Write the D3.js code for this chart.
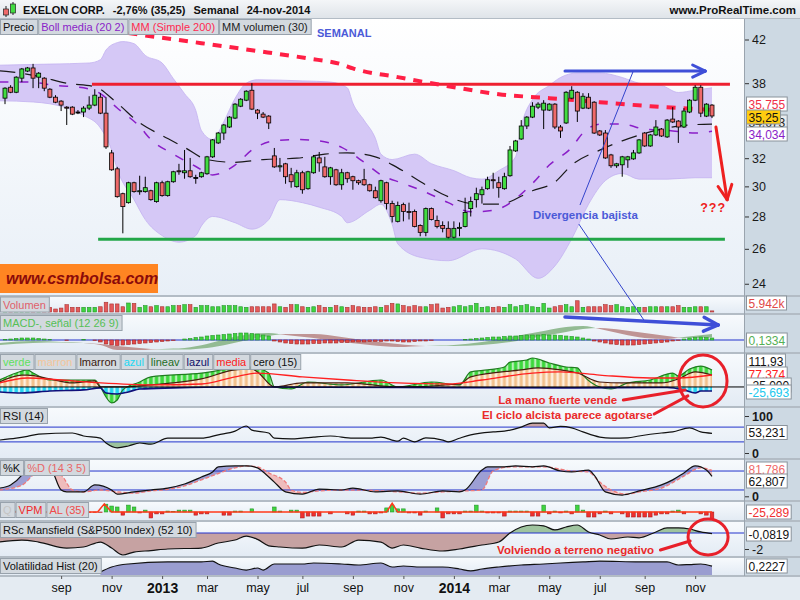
<!DOCTYPE html>
<html>
<head>
<meta charset="utf-8">
<script src="https://cdn.jsdelivr.net/npm/d3@7"></script>
<style>
  body { margin: 0; background: #fff; }
  svg text { font-family: "Liberation Sans", Arial, sans-serif; }
</style>
</head>
<body>
<svg id="chart" width="800" height="600"></svg>
<script>
// ---------------- data (weekly bars, EXELON CORP.) ----------------
var weeks = d3.timeMonday.range(new Date(2012, 5, 25), new Date(2014, 10, 25));
var monthNames = ["ene","feb","mar","abr","may","jun","jul","ago","sep","oct","nov","dic"];

var opens = [36.72,37.65,37.22,38.44,39.07,39.35,38.53,38.44,37.48,36.80,36.47,35.97,35.97,35.57,35.57,35.89,36.14,36.80,35.48,32.39,
  31.23,29.50,28.90,30.25,29.64,29.64,29.70,28.97,30.25,29.37,30.32,31.09,30.95,31.09,30.60,30.67,30.88,32.10,33.14,33.90,
  34.37,35.08,36.05,36.55,37.39,35.73,35.40,35.24,32.17,31.37,31.59,30.81,29.98,30.95,29.84,30.95,32.02,31.37,30.67,31.16,
  30.11,30.95,30.67,30.39,30.46,30.11,29.70,29.03,30.25,28.84,27.69,28.77,28.32,28.32,27.43,27.00,28.51,27.75,27.43,27.25,
  26.70,27.25,27.37,28.51,29.10,29.43,29.84,30.46,30.25,29.84,30.74,32.54,33.44,34.45,35.16,35.97,35.73,35.73,36.22,34.37,
  34.69,36.72,37.22,35.89,36.80,36.38,34.06,33.90,32.24,31.45,31.52,31.88,31.95,32.39,33.90,32.91,33.75,34.21,33.60,35.00,
  34.84,34.37,35.57,36.55,37.65,35.24,36.14];
var highs = [37.65,37.83,38.61,39.35,39.44,39.72,38.98,38.53,37.57,36.97,36.55,36.05,36.05,35.73,36.05,36.88,37.48,37.14,36.80,32.61,
  31.37,29.57,30.32,30.32,30.74,30.67,29.77,30.32,30.39,30.39,31.09,31.59,32.61,32.02,30.81,31.02,32.17,33.44,33.98,34.61,
  35.24,36.30,36.72,37.39,38.00,35.81,35.57,35.32,32.76,32.02,31.66,31.30,31.16,31.09,31.09,32.24,32.46,32.10,31.37,31.23,
  31.23,31.02,30.74,30.46,31.23,30.18,29.98,30.46,30.32,29.03,28.97,28.90,28.90,28.45,27.50,28.58,28.58,28.06,27.69,27.69,
  27.69,27.62,29.23,29.30,29.91,29.98,30.67,30.95,30.67,30.95,32.91,33.37,34.92,35.24,36.38,36.38,36.55,36.30,36.30,34.53,
  37.31,37.74,37.31,37.14,37.14,36.47,34.13,34.13,32.32,31.66,32.17,32.17,32.61,33.44,33.98,33.83,34.92,34.29,35.00,35.97,
  34.92,35.89,36.63,37.83,37.83,36.30,36.22];
var lows = [36.22,37.14,37.14,38.09,38.98,37.57,37.57,37.31,36.72,36.30,35.65,34.53,35.32,35.40,35.16,35.73,36.05,35.40,32.69,31.09,
  29.23,26.94,28.84,29.57,29.43,29.57,29.03,28.90,29.30,29.30,30.25,30.81,30.53,30.60,30.18,30.60,30.81,32.02,33.06,33.37,
  34.29,35.00,35.97,36.47,35.73,35.00,35.08,34.21,31.30,31.02,30.18,29.91,29.91,29.50,29.77,30.88,31.02,30.60,30.11,30.04,
  29.77,30.25,29.77,30.11,30.04,29.64,29.17,28.90,28.45,27.62,27.62,27.69,27.81,27.31,26.76,26.76,27.75,27.25,27.00,26.63,
  26.63,26.76,27.31,28.00,28.58,28.84,29.77,29.84,29.23,29.77,30.67,32.46,33.37,34.21,35.08,35.81,34.21,35.65,34.21,33.52,
  34.61,36.63,34.77,35.81,35.81,33.83,33.67,31.95,31.30,31.30,30.67,31.30,31.88,32.32,32.84,32.84,33.67,33.60,33.52,34.69,
  33.14,34.29,35.48,36.47,35.16,35.16,35.08];
var closes = [37.57,37.22,38.53,39.26,39.35,38.44,38.88,37.57,36.80,36.38,36.14,35.89,35.40,35.55,35.89,36.14,36.97,35.48,32.84,31.16,
  29.30,28.64,30.25,29.64,29.70,29.91,29.10,30.25,29.37,30.32,31.02,31.02,31.09,30.67,30.62,30.95,32.10,33.37,33.90,34.53,
  35.16,36.22,36.63,37.31,35.81,35.48,35.16,34.69,31.37,31.45,30.67,30.32,30.95,29.77,31.02,32.10,31.66,30.67,31.30,30.11,
  30.95,30.53,30.39,30.25,30.11,29.70,29.23,30.39,28.84,28.00,28.71,28.32,28.26,27.37,27.00,28.51,27.81,27.37,27.25,26.70,
  27.25,27.31,28.26,28.97,29.50,29.77,30.46,30.39,29.91,30.67,32.61,33.29,34.45,35.16,36.05,36.22,36.30,36.22,34.37,34.06,
  37.22,37.39,35.65,36.88,35.89,33.90,33.75,32.02,31.45,31.59,32.10,32.10,32.39,33.37,32.91,33.75,34.37,33.67,34.92,34.77,
  34.37,35.65,36.55,37.65,35.48,36.22,35.25];

// volume, millions of shares
var volumes = [28,25,30,28,22,30,25,28,25,16,21,39,25,25,25,25,25,28,52,43,43,28,48,46,25,34,28,34,28,28,34,34,39,39,25,34,34,28,28,34,
  34,34,28,25,28,28,28,28,43,28,25,39,39,28,25,28,34,25,25,34,28,25,34,28,25,25,28,25,34,46,43,
  34,28,34,28,28,39,43,21,25,28,34,28,34,46,25,28,25,28,25,39,28,34,39,28,25,46,21,28,34,39,28,60,25,28,28,28,39,34,39,28,25,28,
  25,25,28,28,28,28,28,34,25,25,28,28,28,5.942];

// price overlays: [week index, value]
var bollUpper = [[-1,39.6],[8,39.7],[15,39.8],[17,40.1],[18,41.0],[20,41.7],[21,41.8],[23,41.6],[25,40.5],[28,39.8],[30,38.4],[32,37.1],
  [34,35.7],[35,34.1],[37,33.4],[39,34.8],[41,36.7],[43,38.0],[45,38.3],[53,38.2],[58,38.1],[61,37.6],[62,36.3],[64,34.9],[66,33.5],
  [67,32.3],[69,31.9],[73,32.3],[76,31.6],[80,31.1],[83,30.6],[85,30.5],[88,31.1],[91,32.1],[92,34.4],[94,36.6],[97,37.8],[99,38.5],
  [102,38.9],[106,38.9],[110,38.5],[113,38.0],[117,37.8],[120,37.2],[123,37.4],[126,37.6]];
var bollLower = [[-1,36.5],[5,36.4],[11,35.9],[14,35.3],[17,34.3],[19,32.6],[20,31.2],[23,29.1],[25,27.8],[28,26.8],[31,26.4],[34,26.8],
  [35,27.4],[37,28.0],[41,27.6],[44,27.2],[47,27.8],[49,29.1],[53,28.9],[56,28.6],[60,28.0],[61,27.6],[65,28.4],[67,28.8],[69,27.5],
  [70,26.3],[74,25.5],[79,25.3],[85,26.0],[91,25.4],[95,24.3],[98,25.0],[101,26.6],[104,28.8],[107,30.4],[110,30.9],[113,30.5],
  [118,30.5],[123,30.6],[126,30.6]];
var bollMid = [[-1,38.1],[4,38.1],[9,37.8],[14,37.6],[17,37.1],[20,35.9],[24,34.4],[26,33.4],[30,32.3],[34,31.4],[37,30.8],[41,31.5],
  [44,32.6],[48,33.3],[52,33.4],[56,33.3],[60,32.8],[64,31.7],[67,30.8],[71,30.2],[75,29.6],[79,28.9],[83,28.3],[87,28.4],[94,30.2],
  [97,31.5],[101,32.8],[103,33.9],[106,34.6],[110,34.6],[114,34.2],[118,34.1],[123,33.9],[126,34.034]];
var maBlack = [[-1,39.1],[1,39.0],[6,38.6],[11,38.0],[16,37.7],[20,36.3],[24,34.7],[28,33.7],[32,32.8],[36,31.9],[41,31.7],[46,31.9],
  [52,32.0],[57,32.3],[61,32.4],[66,32.1],[70,31.3],[75,30.1],[79,29.3],[84,28.8],[88,28.8],[94,29.7],[98,30.3],[101,31.5],[106,32.6],
  [110,33.3],[116,34.1],[121,34.5],[126,34.6]];
var ma200 = [[22,42.62],[35,41.65],[44,40.98],[54,40.22],[60,39.67],[62,39.31],[70,38.53],[79,37.74],[88,37.05],[97,36.72],[106,36.38],
  [115,36.05],[126,35.755]];

// MACD panel
var macdLine = [[-1,-3],[5,-1],[10,-2],[14,-3],[17,-5],[20,-10],[24,-10],[28,-9],[32,-8],[36,-4],[40,2],[44,6],[47,7],[50,5],[55,2],
  [60,-2],[65,-5],[70,-7],[75,-6],[80,-5],[85,-2],[90,3],[95,8],[100,13],[103,14],[106,11],[110,6],[114,2],[118,1],[121,3],[126,6]];
var signalLine = [[-1,-5],[5,-3],[10,-2.5],[14,-3],[17,-4],[20,-6],[24,-8],[28,-9.5],[32,-9.5],[36,-8],[40,-4],[44,1],[47,4],[50,6],
  [55,6],[60,3],[65,-1],[70,-4],[75,-6],[80,-6],[85,-5],[90,-2],[95,3],[100,8],[103,11],[106,12],[110,10],[114,7],[118,4],[121,2],[126,2.5]];
var macdHist = [0.5,1,1.5,2,2,2,1.5,1,0.5, 0,0,-0.5,0,0,0.5,0,-0.5,
  -2,-4,-5,-5.5,-5,-4.5,-4,-3.5,-3,-2.5,-2,-1.5, -1,-0.5,0,
  1,1.5,2.5,3,4,4.5,5,5.5,6,6.5,7,7,6.5,6,5,4,
  -1,-2,-3,-3.5,-4,-4,-4,-3.5,-3.5,-3,-3,-3,-2.5,-2.5,-2,-2,-2,-1.5,-1.5,-1.5,-1,-1,-1.5,
  -2,-2,-1.5,-1,-1,-0.5,0,0,0,0,0,
  0.5,1,1.5,2,2.5,3,3,3.5,4,4,4.5,5,5,5,5.5,5,5,4.5,4,3.5,3,2,1,
  -1,-2,-3,-4,-4.5,-5,-5,-5,-4.5,-4,-3.5,-3,-2.5,-2,-1,-0.5,
  1,2,2.5,3,2.5,2];

// "mano fuerte" panel
var verde = [[-1,45],[2,90],[4,110],[5,90],[8,45],[16,45],[17,0],[18,-65],[19,-103],[20,-84],[21,-19],[24,32],[26,65],[35,90],[40,116],
  [44,129],[47,90],[48,0],[51,-13],[54,32],[60,13],[67,45],[70,0],[76,32],[81,13],[83,97],[86,110],[89,129],[90,161],[93,174],[94,187],
  [97,155],[100,129],[102,123],[103,77],[106,0],[108,-13],[111,26],[115,45],[119,90],[120,71],[122,116],[124,135],[126,110]];
var marron = [[-1,32],[3,77],[4,77],[8,52],[12,26],[16,39],[17,0],[21,0],[26,13],[30,26],[35,52],[41,110],[44,116],[45,97],[48,0],[53,26],
  [61,26],[70,0],[81,19],[83,65],[92,110],[95,123],[99,110],[102,90],[106,32],[110,26],[117,26],[120,52],[123,97],[126,77]];
var azul = [[-1,-32],[3,-39],[8,-26],[14,-19],[17,-6],[18,-39],[20,-45],[22,-32],[24,-13],[30,-6],[40,0],[70,-3],[100,-6],[118,-3],
  [121,-19],[123,-39],[124,-26],[126,-25.693]];
var media = [[-1,26],[4,58],[10,45],[17,26],[26,13],[35,19],[41,65],[45,90],[53,65],[61,45],[70,26],[79,19],[85,45],[94,90],[99,97],
  [106,77],[115,58],[120,58],[126,77.374]];

// RSI (14)
var rsi = [[-1,35],[2,40],[4,45],[6,51],[12,54],[14,46],[17,40],[18,27],[20,14],[22,19],[24,27],[26,24],[29,40],[35,40],[38,49],[41,59],
  [43,73],[44,62],[47,54],[48,40],[51,38],[53,40],[55,43],[58,46],[62,40],[65,40],[67,43],[70,32],[71,40],[73,30],[75,41],[78,35],[79,30],
  [81,40],[83,49],[87,57],[89,59],[92,70],[94,81],[96,81],[97,68],[99,72],[101,68],[103,57],[106,43],[108,40],[111,41],[113,46],[117,54],
  [119,57],[122,68],[124,57],[126,53.231]];

// Stochastic %K %D (14 3 5)
var stochK = [[-1,26],[1,36],[3,67],[4,93],[6,93],[8,90],[10,20],[11,14],[14,14],[16,36],[19,20],[20,7],[23,14],[26,20],[29,26],[32,39],
  [35,61],[37,77],[38,93],[41,96],[43,96],[45,90],[46,77],[48,45],[50,14],[53,7],[56,23],[60,20],[62,26],[66,14],[70,17],[74,7],[78,17],
  [81,14],[82,20],[85,83],[86,93],[89,93],[91,96],[94,93],[96,96],[99,80],[101,77],[104,83],[105,67],[107,14],[110,4],[113,17],[117,36],
  [119,52],[121,74],[123,96],[125,83],[126,62.807]];
var stochD = [[-1,20],[3,35],[6,77],[8,77],[10,67],[12,20],[14,14],[17,20],[20,14],[23,10],[26,17],[29,22],[32,33],[35,52],[38,72],
  [41,90],[43,96],[45,93],[47,74],[50,45],[51,20],[53,12],[56,17],[60,20],[66,18],[70,14],[74,10],[78,14],[82,17],[85,20],[87,80],[90,93],
  [96,93],[101,80],[104,77],[106,45],[108,20],[111,7],[113,14],[117,26],[121,64],[124,90],[126,81.786]];

// VPM / AL (35)
var vpm = [2,-2,3,-3,4,2,-2,-3,3,2,-2,-4,2,-2, -1,-1,-1,-1,
  25,19,16,-10,22,16,-3,6,-19,-6,-6,3,2,6,6,6,-10,-6,-6,0,0,-10,-10,3,3,0,10,0,0,0,16,3,0,6,6,-19,-13,-13,-13,0,-6,0,0,-6,-10,3,3,-6,-6,-3,13,22,10,
  10,-3,-3,-10,3,0,13,-19,-6,-6,-6,3,3,22,3,-3,-3,-3,-13,3,3,3,3,-13,-13,22,-6,3,-3,3,-6,22,6,-16,-16,-6,3,-6,0,-6,
  -16,-16,-16,-16,-16,-10,-6,-6,3,6,-6,0,0,-6,-10,-25.289];
var alLine = [[-1,0],[16.5,0],[17.7,26],[19,0],[68,0],[69,28],[70,0],[126,0]];

// RSc Mansfield (S&P500 Index) (52 10)
var rsc = [[-1,-1.13],[3,-0.88],[6,-1.13],[11,-1.88],[14,-1.75],[17,-1.13],[19,-1.88],[21,-2.75],[23,-2.38],[26,-2.2],[29,-2.0],
  [35,-1.88],[38,-1.25],[41,-0.88],[43,-0.38],[45,-0.8],[47,-1.6],[49,-1.75],[53,-1.9],[56,-1.5],[60,-1.75],[63,-0.88],[67,-1.13],
  [69,-1.88],[71,-1.5],[74,-1.88],[78,-2.25],[81,-2.0],[85,-1.5],[88,-1.13],[90,0.0],[92,0.75],[94,1.0],[96,0.9],[98,0.38],[100,0.75],
  [102,1.0],[104,0.13],[106,-0.25],[108,-0.75],[111,-0.5],[113,-0.6],[116,0.13],[118,0.63],[120,0.63],[122,0.5],[124,0.13],[126,-0.0819]];

// Volatilidad Hist (20)
var volHist = [[17,0.142],[19,0.211],[22,0.253],[29,0.281],[35,0.281],[37,0.294],[38,0.253],[41,0.197],[43,0.169],[45,0.197],[46,0.169],
  [48,0.253],[53,0.253],[55,0.267],[60,0.253],[63,0.239],[67,0.267],[69,0.211],[71,0.225],[74,0.211],[78,0.211],[81,0.183],[83,0.156],
  [85,0.183],[88,0.211],[92,0.239],[96,0.253],[99,0.267],[103,0.281],[106,0.294],[113,0.281],[118,0.281],[120,0.239],[122,0.245],
  [124,0.253],[126,0.2227]];

// hand-drawn levels
var resistance = [[15.5,37.91],[129.2,37.91]];
var support = [[16.6,26.57],[128.3,26.57]];

// ---------------- layout ----------------
var W = 800, H = 600, PR = 744;
var P = {price:[19,295], volume:[297,313], macd:[315,352], mano:[354,406], rsi:[408,458],
         stoch:[460,500], vpm:[502,520], rsc:[522,556], vol:[558,575]};

var svg = d3.select("#chart");
var defs = svg.append("defs");

var xi = d3.scaleLinear().domain([0, weeks.length - 1]).range([5, 712]);
var step = xi(1) - xi(0);

var yPrice = d3.scaleLog().domain([23.39, 43.92]).range([295, 20]);
var yVolume = d3.scaleLinear().domain([0, 80]).range([312, 297]);
var yMacd = d3.scaleLinear().domain([-12, 22]).range([352, 318]);
var yMano = d3.scaleLinear().domain([-123, 213]).range([406, 354]);
var yRsi = d3.scaleLinear().domain([0, 100]).range([453, 416]);
var yStoch = d3.scaleLinear().domain([0, 100]).range([496.3, 464.7]);
var yVpm = d3.scaleLinear().domain([-28.8, 32]).range([521, 502]);
var yRsc = d3.scaleLinear().domain([-2.875, 1.375]).range([556, 522]);
var yVol = d3.scaleLinear().domain([0.1, 0.35]).range([575, 557]);

// gradients
function vGrad(id, c0, c1) {
  var g = defs.append("linearGradient").attr("id", id).attr("x1", 0).attr("y1", 0).attr("x2", 0).attr("y2", 1);
  g.append("stop").attr("offset", "0%").attr("stop-color", c0);
  g.append("stop").attr("offset", "100%").attr("stop-color", c1);
}
vGrad("bgPrice", "#ffffff", "#e8eff7");
vGrad("bgPanel", "#f7fafd", "#e3ebf4");
vGrad("bgHead", "#f4f6f8", "#dfe4e9");

// stripes for the "mano" histograms
function stripes(id, bg, fg, w) {
  var p = defs.append("pattern").attr("id", id).attr("patternUnits", "userSpaceOnUse")
    .attr("width", step).attr("height", 8)
    .attr("patternTransform", "translate(" + (xi(0) - step / 2) + ",0)");
  p.append("rect").attr("width", step).attr("height", 8).attr("fill", bg);
  p.append("rect").attr("x", (step - w) / 2).attr("width", w).attr("height", 8).attr("fill", fg);
}
stripes("pVerde", "#b9efb9", "#3cd83c", 3.4);
stripes("pMarron", "#fdeedd", "#f2c08c", 3.0);
stripes("pAzul", "#bff4fb", "#22d4f2", 3.4);

// background + separators
svg.append("rect").attr("width", W).attr("height", H).attr("fill", "#b3bcc5");
svg.append("rect").attr("width", W).attr("height", 18).attr("fill", "url(#bgHead)");

Object.keys(P).forEach(function(k) {
  var t = P[k][0], b = P[k][1];
  svg.append("rect").attr("x", 0).attr("y", t).attr("width", PR).attr("height", b - t)
    .attr("fill", k === "price" ? "url(#bgPrice)" : "url(#bgPanel)");
  svg.append("rect").attr("x", PR + 1).attr("y", t).attr("width", W - PR - 1).attr("height", b - t)
    .attr("fill", "#cdd9e3");
});
svg.append("rect").attr("x", 0).attr("y", 577).attr("width", W).attr("height", 23).attr("fill", "#e4ebf2");

function panelGroup(name) {
  var t = P[name][0], b = P[name][1];
  defs.append("clipPath").attr("id", "clip-" + name)
    .append("rect").attr("x", 0).attr("y", t).attr("width", PR).attr("height", b - t);
  return svg.append("g").attr("clip-path", "url(#clip-" + name + ")");
}

function lineOf(ys) {
  return d3.line().x(function(d) { return xi(d[0]); }).y(function(d) { return ys(d[1]); }).curve(d3.curveMonotoneX);
}

var clipN = 0;
// colAB where series A is above series B, colBA where B is above A
function fillBetween(g, A, B, ys, top, bottom, colAB, colBA) {
  var above = d3.area().x(function(d) { return xi(d[0]); }).y0(top).y1(function(d) { return ys(d[1]); }).curve(d3.curveMonotoneX);
  var below = d3.area().x(function(d) { return xi(d[0]); }).y0(bottom).y1(function(d) { return ys(d[1]); }).curve(d3.curveMonotoneX);
  if (colAB !== "none") {
    var id1 = "fb" + (clipN++);
    defs.append("clipPath").attr("id", id1).append("path").attr("d", above(B));
    g.append("path").attr("d", below(A)).attr("fill", colAB).attr("clip-path", "url(#" + id1 + ")");
  }
  if (colBA !== "none") {
    var id2 = "fb" + (clipN++);
    defs.append("clipPath").attr("id", id2).append("path").attr("d", above(A));
    g.append("path").attr("d", below(B)).attr("fill", colBA).attr("clip-path", "url(#" + id2 + ")");
  }
}

function level(v) { return [[-1, v], [weeks.length, v]]; }

function hLine(g, ys, v, color) {
  g.append("line").attr("x1", 0).attr("x2", PR).attr("y1", ys(v)).attr("y2", ys(v))
    .attr("stroke", color).attr("stroke-width", 1);
}

// ---------------- price panel ----------------
var gp = panelGroup("price");
fillBetween(gp, bollUpper, bollLower, yPrice, 19, 295, "#d5c8f6", "none");
gp.append("path").attr("d", lineOf(yPrice)(bollUpper)).attr("fill", "none").attr("stroke", "#c3b1f0").attr("stroke-width", 0.8);
gp.append("path").attr("d", lineOf(yPrice)(bollLower)).attr("fill", "none").attr("stroke", "#c3b1f0").attr("stroke-width", 0.8);
gp.append("path").attr("d", lineOf(yPrice)(bollMid)).attr("fill", "none").attr("stroke", "#8a1ec8")
  .attr("stroke-width", 1.5).attr("stroke-dasharray", "9,11");
gp.append("path").attr("d", lineOf(yPrice)(maBlack)).attr("fill", "none").attr("stroke", "#1a1a1a")
  .attr("stroke-width", 1.2).attr("stroke-dasharray", "16,10");

gp.append("path").attr("d", lineOf(yPrice)(resistance)).attr("stroke", "#ee2030").attr("stroke-width", 3);
gp.append("path").attr("d", lineOf(yPrice)(support)).attr("stroke", "#22a648").attr("stroke-width", 3);

gp.append("path").attr("d", lineOf(yPrice)(ma200)).attr("fill", "none").attr("stroke", "#ff1f45")
  .attr("stroke-width", 4).attr("stroke-dasharray", "9,8");

// candles
var candles = gp.append("g").selectAll("g").data(weeks).join("g");
candles.append("line")
  .attr("x1", function(d, i) { return xi(i); }).attr("x2", function(d, i) { return xi(i); })
  .attr("y1", function(d, i) { return yPrice(highs[i]); }).attr("y2", function(d, i) { return yPrice(lows[i]); })
  .attr("stroke", "#000").attr("stroke-width", 1);
candles.append("rect")
  .attr("x", function(d, i) { return xi(i) - 2; }).attr("width", 4)
  .attr("y", function(d, i) { return yPrice(Math.max(opens[i], closes[i])); })
  .attr("height", function(d, i) { return Math.max(1, yPrice(Math.min(opens[i], closes[i])) - yPrice(Math.max(opens[i], closes[i]))); })
  .attr("fill", function(d, i) {
    if (Math.abs(opens[i] - closes[i]) < 0.05) return "#000";
    return closes[i] >= opens[i] ? "#42dc42" : "#ef6a6a";
  })
  .attr("stroke", "#000").attr("stroke-width", 0.8);

// watermark box
svg.append("rect").attr("x", 0).attr("y", 264).attr("width", 158).attr("height", 29).attr("fill", "#ff8522");
svg.append("text").attr("x", 6).attr("y", 284).attr("font-size", 16).attr("font-weight", "bold")
  .attr("font-style", "italic").attr("fill", "#8b0a0a").text("www.csmbolsa.com");

// ---------------- volume ----------------
var gv = panelGroup("volume");
gv.selectAll("rect").data(volumes).join("rect")
  .attr("x", function(d, i) { return xi(i) - 1.8; }).attr("width", 3.6)
  .attr("y", function(d) { return yVolume(d); })
  .attr("height", function(d) { return yVolume(0) - yVolume(d); })
  .attr("fill", function(d, i) { return closes[i] >= opens[i] ? "#3fd43f" : "#e45a5a"; })
  .attr("stroke", function(d, i) { return closes[i] >= opens[i] ? "#25952a" : "#a83232"; })
  .attr("stroke-width", 0.6);

// ---------------- MACD ----------------
var gm = panelGroup("macd");
fillBetween(gm, macdLine, signalLine, yMacd, 315, 352, "#93bb93", "#bf9494");
hLine(gm, yMacd, 0, "#2233cc");
gm.selectAll("rect.h").data(macdHist).join("rect").attr("class", "h")
  .attr("x", function(d, i) { return xi(i) - 1.8; }).attr("width", 3.6)
  .attr("y", function(d) { return Math.min(yMacd(d), yMacd(0)); })
  .attr("height", function(d) { return Math.abs(yMacd(d) - yMacd(0)); })
  .attr("fill", function(d) { return d >= 0 ? "#3fd43f" : "#e44848"; })
  .attr("stroke", function(d) { return d >= 0 ? "#25952a" : "#a02828"; })
  .attr("stroke-width", function(d) { return d === 0 ? 0 : 0.6; });

// ---------------- mano fuerte ----------------
var gz = panelGroup("mano");
function zeroArea(data) {
  return d3.area().x(function(d) { return xi(d[0]); }).y0(yMano(0)).y1(function(d) { return yMano(d[1]); })
    .curve(d3.curveMonotoneX)(data);
}
gz.append("path").attr("d", zeroArea(verde)).attr("fill", "url(#pVerde)");
gz.append("path").attr("d", zeroArea(marron)).attr("fill", "url(#pMarron)");
gz.append("path").attr("d", zeroArea(azul)).attr("fill", "url(#pAzul)");
gz.append("path").attr("d", lineOf(yMano)(verde)).attr("fill", "none").attr("stroke", "#1f7d1f").attr("stroke-width", 1.2);
gz.append("path").attr("d", lineOf(yMano)(marron)).attr("fill", "none").attr("stroke", "#4a1e10").attr("stroke-width", 1.2);
gz.append("path").attr("d", lineOf(yMano)(azul)).attr("fill", "none").attr("stroke", "#10107a").attr("stroke-width", 1.6);
gz.append("path").attr("d", lineOf(yMano)(media)).attr("fill", "none").attr("stroke", "#ff2020").attr("stroke-width", 1.3);
hLine(gz, yMano, 0, "#000");

// ---------------- RSI ----------------
var gr = panelGroup("rsi");
fillBetween(gr, rsi, level(70), yRsi, 408, 458, "#c9a3a3", "none");
fillBetween(gr, rsi, level(30), yRsi, 408, 458, "none", "#9cc39c");
hLine(gr, yRsi, 70, "#2233cc");
hLine(gr, yRsi, 30, "#2233cc");
gr.append("path").attr("d", lineOf(yRsi)(rsi)).attr("fill", "none").attr("stroke", "#111").attr("stroke-width", 1.2);

// ---------------- Stochastic ----------------
var gs = panelGroup("stoch");
fillBetween(gs, stochK, stochD, yStoch, 460, 500, "#9d9fd4", "#efbcbc");
hLine(gs, yStoch, 80, "#2233cc");
hLine(gs, yStoch, 20, "#2233cc");
gs.append("path").attr("d", lineOf(yStoch)(stochD)).attr("fill", "none").attr("stroke", "#ef7a7a")
  .attr("stroke-width", 1.3).attr("stroke-dasharray", "4,2");
gs.append("path").attr("d", lineOf(yStoch)(stochK)).attr("fill", "none").attr("stroke", "#111").attr("stroke-width", 1.2);

// ---------------- VPM ----------------
var gq = panelGroup("vpm");
gq.selectAll("rect").data(vpm).join("rect")
  .attr("x", function(d, i) { return xi(i) - 1.8; }).attr("width", 3.6)
  .attr("y", function(d) { return Math.min(yVpm(d), yVpm(0)); })
  .attr("height", function(d) { return Math.abs(yVpm(d) - yVpm(0)); })
  .attr("fill", function(d) { return d >= 0 ? "#3fd43f" : "#ee3030"; })
  .attr("stroke", function(d) { return d >= 0 ? "#25952a" : "#b01a1a"; })
  .attr("stroke-width", function(d) { return d === 0 ? 0 : 0.6; });
gq.append("path").attr("d", d3.line().x(function(d) { return xi(d[0]); }).y(function(d) { return yVpm(d[1]); })(alLine))
  .attr("fill", "none").attr("stroke", "#ff3a1a").attr("stroke-width", 1.5);

// ---------------- RSc Mansfield ----------------
var gc = panelGroup("rsc");
fillBetween(gc, rsc, level(0), yRsc, 522, 556, "#9fc49f", "#c6a2a2");
hLine(gc, yRsc, 0, "#2233cc");
gc.append("path").attr("d", lineOf(yRsc)(rsc)).attr("fill", "none").attr("stroke", "#111").attr("stroke-width", 1.2);

// ---------------- Volatility ----------------
var gh = panelGroup("vol");
gh.append("path").attr("d", d3.area().x(function(d) { return xi(d[0]); }).y0(575).y1(function(d) { return yVol(d[1]); })
  .curve(d3.curveMonotoneX)(volHist)).attr("fill", "#9a9dd0");
gh.append("path").attr("d", lineOf(yVol)(volHist)).attr("fill", "none").attr("stroke", "#111").attr("stroke-width", 1.2);

// ---------------- axes ----------------
function styleAxis(g, bold) {
  g.select(".domain").remove();
  g.selectAll("text").attr("font-size", 12.5).attr("fill", "#1a1a1a").attr("font-family", "Liberation Sans, Arial, sans-serif")
    .attr("font-weight", bold ? "bold" : "normal");
  g.selectAll("line").attr("stroke", "#333");
}
function rightAxis(ys, vals, bold) {
  var g = svg.append("g").attr("transform", "translate(" + (PR + 1) + ",0)")
    .call(d3.axisRight(ys).tickValues(vals).tickFormat(function(d) { return String(d); }).tickSize(4).tickPadding(3));
  styleAxis(g, bold);
}
rightAxis(yPrice, [24, 26, 28, 30, 32, 38, 42], false);
rightAxis(yRsi, [0, 100], true);
rightAxis(yStoch, [0], true);
rightAxis(yRsc, [-2], false);

var tickIdx = d3.range(1, weeks.length).filter(function(i) {
  return weeks[i].getMonth() !== weeks[i - 1].getMonth() && weeks[i].getMonth() % 2 === 0 && xi(i) > 30;
});
var gx = svg.append("g").attr("transform", "translate(0,576)")
  .call(d3.axisBottom(xi).tickValues(tickIdx).tickSize(3).tickPadding(4)
    .tickFormat(function(i) { return weeks[i].getMonth() === 0 ? weeks[i].getFullYear() : monthNames[weeks[i].getMonth()]; }));
gx.select(".domain").remove();
gx.selectAll("line").attr("stroke", "#555");
gx.selectAll("text").attr("font-size", 12.5).attr("fill", "#111").attr("font-family", "Liberation Sans, Arial, sans-serif");
gx.selectAll(".tick").filter(function(i) { return weeks[i].getMonth() === 0; }).select("text")
  .attr("font-weight", "bold").attr("font-size", 14);

// ---------------- header, legends, value boxes ----------------
// icon
svg.append("line").attr("x1", 6).attr("x2", 6).attr("y1", 6).attr("y2", 17).attr("stroke", "#222");
svg.append("rect").attr("x", 3.5).attr("y", 9).attr("width", 5).attr("height", 6).attr("fill", "#ef6a6a").attr("stroke", "#222").attr("stroke-width", 0.7);
svg.append("line").attr("x1", 13).attr("x2", 13).attr("y1", 2).attr("y2", 15).attr("stroke", "#222");
svg.append("rect").attr("x", 10.5).attr("y", 4).attr("width", 5).attr("height", 9).attr("fill", "#42dc42").attr("stroke", "#222").attr("stroke-width", 0.7);

var headTexts = [["EXELON CORP.", 23], ["-2,76% (35,25)", 109], ["Semanal", 191], ["24-nov-2014", 246]];
var headEnd = 0;
headTexts.forEach(function(h) {
  var t = svg.append("text").attr("x", Math.max(h[1], headEnd + 8)).attr("y", 14).attr("font-size", 11)
    .attr("font-weight", "bold").attr("fill", "#111").text(h[0]);
  headEnd = +t.attr("x") + t.node().getComputedTextLength();
});
svg.append("text").attr("x", 796).attr("y", 14).attr("text-anchor", "end").attr("font-size", 11.5).attr("font-weight", "bold")
  .attr("fill", "#111").text("www.ProRealTime.com");

function labelRow(x0, y0, items) {
  var x = x0;
  items.forEach(function(it) {
    var r = svg.append("rect").attr("y", y0).attr("height", 15).attr("fill", "#d3d9df").attr("stroke", "#98a2ac");
    var t = svg.append("text").attr("x", x + 3).attr("y", y0 + 11.5).attr("font-size", 11).attr("fill", it[1]).text(it[0]);
    var w = t.node().getComputedTextLength() + 6;
    r.attr("x", x + 0.5).attr("width", w);
    x += w + 1;
  });
}
labelRow(0, 19.5, [["Precio", "#111"], ["Boll media (20 2)", "#8a1ec8"], ["MM (Simple 200)", "#ff2a50"], ["MM volumen (30)", "#222"]]);
labelRow(0, 297, [["Volumen", "#e0606a"]]);
labelRow(0, 315.5, [["MACD-, señal (12 26 9)", "#55c055"]]);
labelRow(0, 354.5, [["verde", "#5ee05e"], ["marron", "#f3c59a"], ["lmarron", "#3a1a10"], ["azul", "#20d8f4"],
  ["lineav", "#1f6f1f"], ["lazul", "#10106a"], ["media", "#ff1a1a"], ["cero (15)", "#111"]]);
labelRow(0, 408.5, [["RSI (14)", "#111"]]);
labelRow(0, 460.5, [["%K", "#111"], ["%D (14 3 5)", "#e86868"]]);
labelRow(0, 502.5, [["Q", "#c4c4c4"], ["VPM", "#f02a2a"], ["AL (35)", "#f04a4a"]]);
labelRow(0, 522.5, [["RSc Mansfield (S&P500 Index) (52 10)", "#111"]]);
labelRow(0, 558.5, [["Volatilidad Hist (20)", "#111"]]);

function valueBox(yc, txt, col, bg, bold) {
  var r = svg.append("rect").attr("x", 746.5).attr("y", yc - 7).attr("height", 14).attr("fill", bg || "#fff").attr("stroke", "#8a939c");
  var t = svg.append("text").attr("x", 748.5).attr("y", yc + 4.5).attr("font-size", 12).attr("fill", col)
    .attr("font-weight", bold ? "bold" : "normal").text(txt);
  r.attr("width", t.node().getComputedTextLength() + 4);
}
valueBox(104, "35,755", "#f03048");
valueBox(122, "34,673", "#222", "#e8ecef");
valueBox(117, "35,25", "#111", "#ffcc10");
valueBox(134, "34,034", "#8a1ec8");
valueBox(303, "5.942k", "#e04848");
valueBox(340, "0,1334", "#55b055");
valueBox(361, "111,93", "#111");
valueBox(374, "77,374", "#ff2020");
valueBox(385, "-25,000", "#111");
valueBox(392, "-25,693", "#20c8ee");
valueBox(432.5, "53,231", "#111");
valueBox(469, "81,786", "#ef6a6a");
valueBox(481, "62,807", "#111");
valueBox(512, "-25,289", "#f03030");
valueBox(534, "-0,0819", "#111");
valueBox(566, "0,2227", "#111");

// ---------------- annotations ----------------
var ann = svg.append("g");
function pt(i, ys, v) { return [xi(i), ys(v)]; }
function seg(a, b, color, w) {
  ann.append("line").attr("x1", a[0]).attr("y1", a[1]).attr("x2", b[0]).attr("y2", b[1])
    .attr("stroke", color).attr("stroke-width", w).attr("stroke-linecap", "round");
}
function arrowHead(tip, from, color, w, len) {
  var a = Math.atan2(tip[1] - from[1], tip[0] - from[0]);
  [0.45, -0.45].forEach(function(o) {
    seg(tip, [tip[0] - len * Math.cos(a + o), tip[1] - len * Math.sin(a + o)], color, w);
  });
}
ann.append("text").attr("x", xi(55.6)).attr("y", yPrice(42.2)).attr("font-size", 11).attr("font-weight", "bold")
  .attr("fill", "#4b5ad8").text("SEMANAL");

var blueA = pt(99.8, yPrice, 39.07), blueB = pt(124.8, yPrice, 39.07);
seg(blueA, blueB, "#3f4fd8", 3);
arrowHead(blueB, blueA, "#3f4fd8", 3, 14);

seg(pt(111.9, yPrice, 38.98), pt(102.5, yPrice, 28.77), "#3344cc", 1);
seg(pt(102.3, yPrice, 27.5), pt(114.1, yMacd, 18), "#3344cc", 1);
ann.append("text").attr("x", xi(94.1)).attr("y", yPrice(27.84)).attr("font-size", 11.5).attr("font-weight", "bold")
  .attr("fill", "#4b5ad8").text("Divergencia bajista");

var redA = pt(126.7, yPrice, 34.37), redB = pt(128.7, yPrice, 29.1);
seg(redA, redB, "#ee2020", 3);
arrowHead(redB, redA, "#ee2020", 3, 16);
ann.append("text").attr("x", xi(123.9)).attr("y", yPrice(28.32)).attr("font-size", 12.5).attr("font-weight", "bold")
  .attr("fill", "#ee2020").attr("letter-spacing", 1).text("???");

var macdA = pt(99.8, yMacd, 23), macdB = pt(127.1, yMacd, 15);
seg(macdA, macdB, "#3f4fd8", 3.5);
arrowHead(macdB, macdA, "#3f4fd8", 3.5, 16);

var c1 = pt(124.4, yMano, 39);
ann.append("ellipse").attr("cx", c1[0]).attr("cy", c1[1]).attr("rx", 24).attr("ry", 26)
  .attr("fill", "none").attr("stroke", "#e8202a").attr("stroke-width", 3);
var c2 = pt(125.3, yRsc, -0.5);
ann.append("ellipse").attr("cx", c2[0]).attr("cy", c2[1]).attr("rx", 20).attr("ry", 18)
  .attr("fill", "none").attr("stroke", "#e8202a").attr("stroke-width", 3);

seg(pt(110.2, yMano, -84), pt(121.2, yMano, -19), "#e8202a", 3);
seg(pt(115.7, yRsi, 105.4), pt(121.7, yMano, -58), "#e8202a", 3);
seg(pt(116.8, yRsc, -2.125), pt(122.1, yRsc, -1.0), "#e8202a", 3);

function redNote(i, ys, v, txt) {
  ann.append("text").attr("x", xi(i)).attr("y", ys(v)).attr("font-size", 11.5).attr("font-weight", "bold")
    .attr("fill", "#ea2a2a").text(txt);
}
redNote(87.9, yMano, -110, "La mano fuerte vende");
redNote(85, yRsi, 92, "El ciclo alcista parece agotarse");
redNote(87.7, yRsc, -2.63, "Volviendo a terreno negativo");

// plot / axis border
svg.append("line").attr("x1", PR + 0.5).attr("x2", PR + 0.5).attr("y1", 19).attr("y2", 576).attr("stroke", "#9aa4ae");
</script>
</body>
</html>
